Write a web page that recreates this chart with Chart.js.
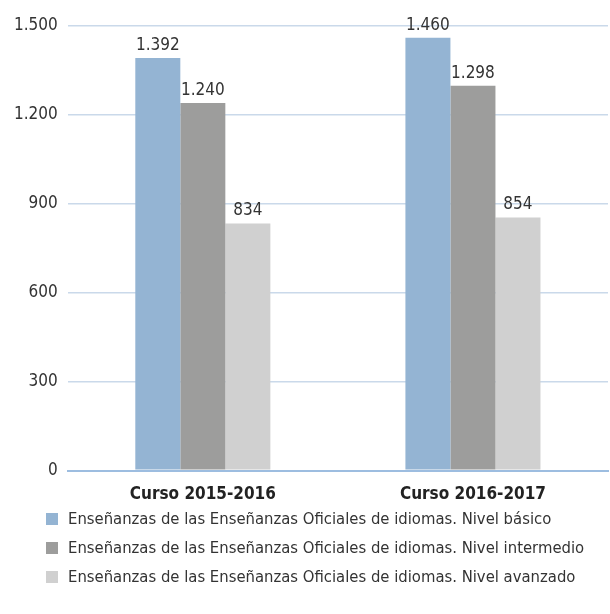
<!DOCTYPE html>
<html>
<head>
<meta charset="utf-8">
<script src="https://cdn.jsdelivr.net/npm/chart.js@4.4.1/dist/chart.umd.min.js"></script>
<style>
    html, body { margin: 0; padding: 0; background: #fff; }
    #wrap { position: relative; width: 610px; height: 614px; }
    #chart { position: absolute; left: 0; top: 0; }
    #legend {
        position: absolute; left: 46px; top: 504px;
        font-family: "Liberation Sans Narrow", "DejaVu Sans Condensed", "Arial Narrow", sans-serif;
        font-size: 16.5px; color: #333; line-height: 29px;
    }
    #legend div { display: flex; align-items: center; white-space: nowrap; }
    #legend span.box { display: inline-block; width: 12px; height: 12px; margin-right: 10px; }
</style>
</head>
<body>
<div id="wrap">
    <canvas id="chart" width="610" height="515"></canvas>
    <div id="legend"></div>
</div>
<script>
// Data
const categories = ['Curso 2015-2016', 'Curso 2016-2017'];
const seriesNames = [
    'Enseñanzas de las Enseñanzas Oficiales de idiomas. Nivel básico',
    'Enseñanzas de las Enseñanzas Oficiales de idiomas. Nivel intermedio',
    'Enseñanzas de las Enseñanzas Oficiales de idiomas. Nivel avanzado'
];
const basico = [1392, 1460];
const intermedio = [1240, 1298];
const avanzado = [834, 854];
const seriesColors = ['#94b4d3', '#9d9d9c', '#d0d0d0'];

const FONT = '"Liberation Sans Narrow", "DejaVu Sans Condensed", "Arial Narrow", sans-serif';

// Spanish thousands separator (es locale skips grouping for 4 digits)
function fmt(v) {
    return String(v).replace(/\B(?=(\d{3})+(?!\d))/g, '.');
}

// Value labels above bars
const valueLabels = {
    id: 'valueLabels',
    afterDatasetsDraw(chart) {
        const ctx = chart.ctx;
        ctx.save();
        ctx.font = '17px ' + FONT;
        ctx.fillStyle = '#333';
        ctx.textAlign = 'center';
        ctx.textBaseline = 'bottom';
        chart.data.datasets.forEach((ds, i) => {
            chart.getDatasetMeta(i).data.forEach((bar, j) => {
                ctx.fillText(fmt(ds.data[j]), bar.x, bar.y - 4);
            });
        });
        ctx.restore();
    }
};

const datasets = [basico, intermedio, avanzado].map((d, i) => ({
    label: seriesNames[i],
    data: d,
    backgroundColor: seriesColors[i],
    borderWidth: 0,
    categoryPercentage: 0.5,
    barPercentage: 1.0
}));

new Chart(document.getElementById('chart'), {
    type: 'bar',
    data: { labels: categories, datasets: datasets },
    options: {
        responsive: false,
        animation: false,
        layout: { padding: { top: 26, right: 2, bottom: 4, left: 4 } },
        plugins: {
            legend: { display: false },
            tooltip: { enabled: false }
        },
        scales: {
            x: {
                grid: { display: false },
                border: { color: '#9dbde0', width: 2 },
                ticks: {
                    color: '#222',
                    padding: 6,
                    font: { family: FONT, size: 17, weight: 'bold' }
                }
            },
            y: {
                min: 0,
                max: 1500,
                border: { display: false },
                grid: {
                    drawTicks: false,
                    color: c => c.tick.value === 0 ? '#9dbde0' : '#cad9ea',
                    lineWidth: c => c.tick.value === 0 ? 2 : 1.5
                },
                ticks: {
                    stepSize: 300,
                    color: '#333',
                    padding: 10,
                    font: { family: FONT, size: 17 },
                    callback: v => fmt(v)
                }
            }
        }
    },
    plugins: [valueLabels]
});

// HTML legend
const legendEl = document.getElementById('legend');
seriesNames.forEach((name, i) => {
    const row = document.createElement('div');
    const box = document.createElement('span');
    box.className = 'box';
    box.style.background = seriesColors[i];
    row.appendChild(box);
    row.appendChild(document.createTextNode(name));
    legendEl.appendChild(row);
});
</script>
</body>
</html>
